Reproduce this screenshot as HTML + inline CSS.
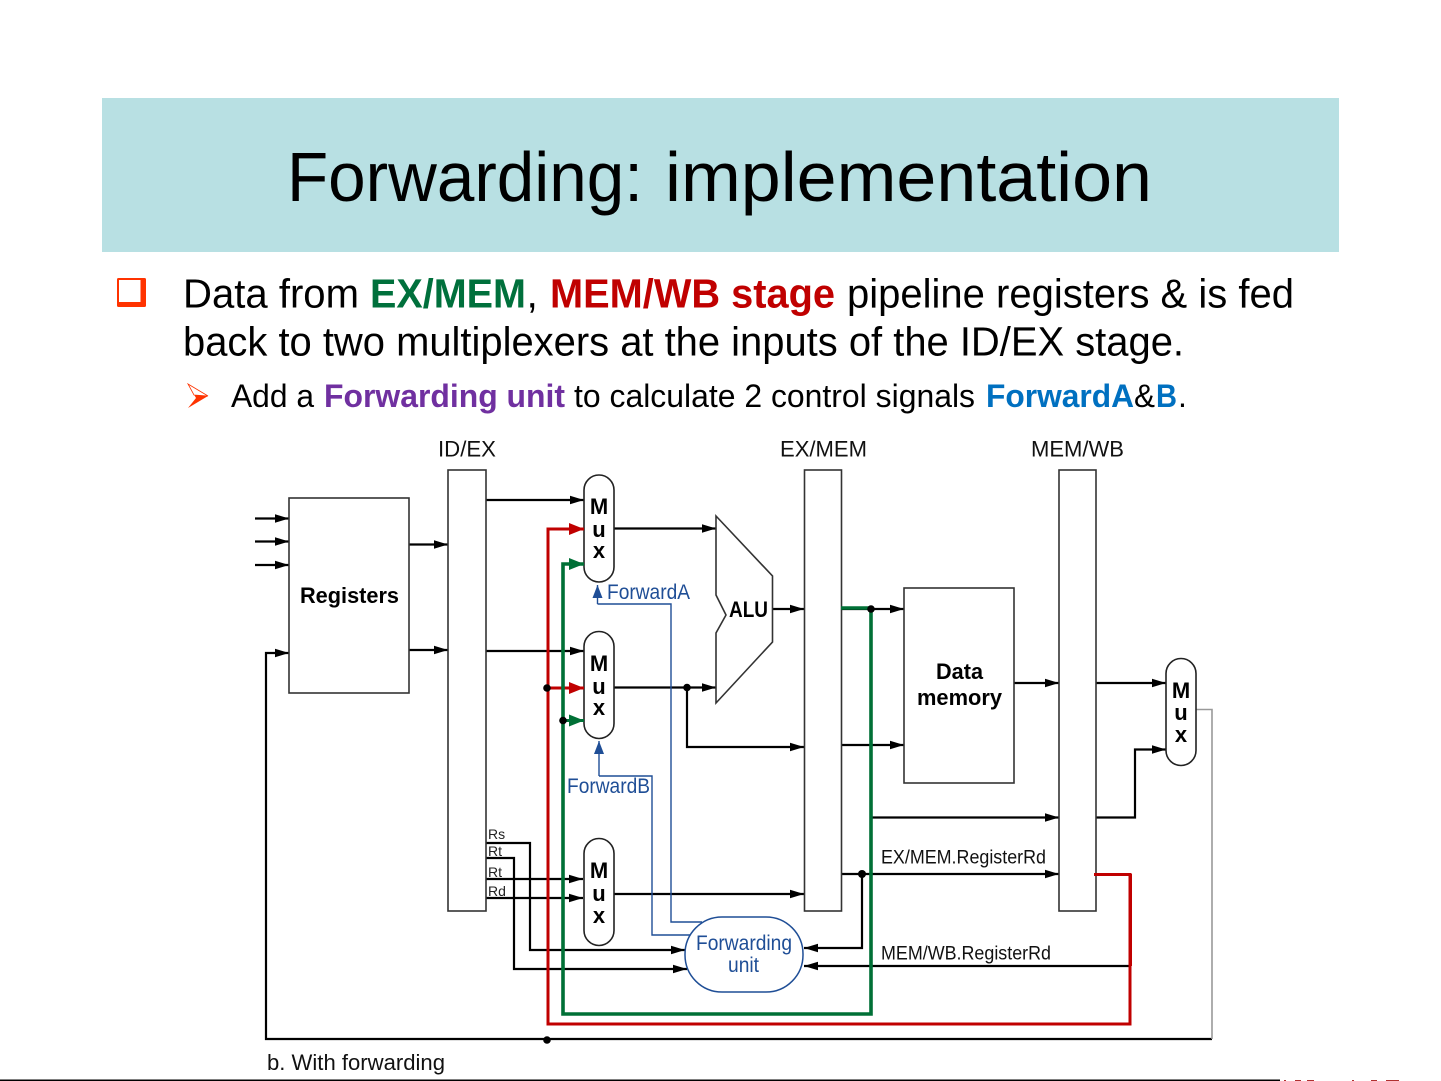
<!DOCTYPE html>
<html><head><meta charset="utf-8"><style>
html,body{margin:0;padding:0;background:#fff;width:1441px;height:1081px;overflow:hidden}
svg{display:block}
text{font-family:"Liberation Sans",Arial,sans-serif;fill:#000}
.t41{font-size:41px}.t32{font-size:32px}.b{font-weight:bold}
.l{font-size:22px;fill:#111}.m{font-size:22px;font-weight:bold;text-anchor:middle}
.s{font-size:14px;fill:#222}.bl{font-size:21px;fill:#1f4e96}
.k{fill:none;stroke:#000;stroke-width:2.2}
.box{fill:#fff;stroke:#333;stroke-width:1.6}
.mux{fill:#fff;stroke:#222;stroke-width:1.6}
.w{fill:none;stroke:#1f4e96;stroke-width:1.4}
</style></head><body>
<svg width="1441" height="1081" viewBox="0 0 1441 1081" xmlns="http://www.w3.org/2000/svg">
<defs>
<marker id="a" markerUnits="userSpaceOnUse" markerWidth="14" markerHeight="10" refX="14" refY="5" orient="auto"><path d="M0 0.800L14 5L0 9.200Z" fill="#000"/></marker>
<marker id="r" markerUnits="userSpaceOnUse" markerWidth="15" markerHeight="12" refX="15" refY="6" orient="auto"><path d="M0 0L15 6L0 12Z" fill="#c00000"/></marker>
<marker id="g" markerUnits="userSpaceOnUse" markerWidth="15" markerHeight="12" refX="15" refY="6" orient="auto"><path d="M0 0L15 6L0 12Z" fill="#007036"/></marker>
<marker id="u" markerUnits="userSpaceOnUse" markerWidth="13" markerHeight="10" refX="13" refY="5" orient="auto"><path d="M0 0L13 5L0 10Z" fill="#1f4e96"/></marker>
</defs>
<rect x="102" y="98" width="1237" height="154" fill="#b8e0e3"/>
<text x="287" y="201" font-size="70" textLength="356" lengthAdjust="spacingAndGlyphs">Forwarding:</text>
<text x="665" y="201" font-size="70" textLength="487" lengthAdjust="spacingAndGlyphs">implementation</text>

<rect x="117" y="278" width="29" height="29" rx="1.500" fill="#ff3300"/>
<rect x="119" y="280" width="21.500" height="22" fill="#fff"/>
<path d="M188 384L208 396L188 408L196 398Z" fill="#ff3300"/>
<path d="M188 384L208 396L194 395Z" fill="#fff" stroke="#ff3300" stroke-width=".8"/>

<text class="t41" x="183" y="307.500" textLength="176" lengthAdjust="spacingAndGlyphs">Data from</text>
<text class="t41 b" x="370" y="307.500" textLength="156" lengthAdjust="spacingAndGlyphs" style="fill:#00703c">EX/MEM</text>
<text class="t41" x="526.500" y="307.500">,</text>
<text class="t41 b" x="550" y="307.500" textLength="285" lengthAdjust="spacingAndGlyphs" style="fill:#c00000">MEM/WB stage</text>
<text class="t41" x="847" y="307.500" textLength="447" lengthAdjust="spacingAndGlyphs">pipeline registers &amp; is fed</text>
<text class="t41" x="183" y="355.500" textLength="1001" lengthAdjust="spacingAndGlyphs">back to two multiplexers at the inputs of the ID/EX stage.</text>
<text class="t32" x="231" y="407" textLength="83" lengthAdjust="spacingAndGlyphs">Add a</text>
<text class="t32 b" x="324" y="407" textLength="241" lengthAdjust="spacingAndGlyphs" style="fill:#7030a0">Forwarding unit</text>
<text class="t32" x="574" y="407" textLength="401" lengthAdjust="spacingAndGlyphs">to calculate 2 control signals</text>
<text class="t32 b" x="986" y="407" textLength="148" lengthAdjust="spacingAndGlyphs" style="fill:#0070c0">ForwardA</text>
<text class="t32" x="1134" y="407" textLength="21" lengthAdjust="spacingAndGlyphs">&amp;</text>
<text class="t32 b" x="1156" y="407" textLength="21" lengthAdjust="spacingAndGlyphs" style="fill:#0070c0">B</text>
<text class="t32" x="1178" y="407">.</text>

<text class="l" x="438" y="456.500" textLength="58" lengthAdjust="spacingAndGlyphs">ID/EX</text>
<text class="l" x="780" y="456.500" textLength="87" lengthAdjust="spacingAndGlyphs">EX/MEM</text>
<text class="l" x="1031" y="456.500" textLength="93" lengthAdjust="spacingAndGlyphs">MEM/WB</text>

<g class="k">
<path d="M255 518.500H289" marker-end="url(#a)"/><path d="M255 541.500H289" marker-end="url(#a)"/><path d="M255 565H289" marker-end="url(#a)"/>
<path d="M409 544.500H448" marker-end="url(#a)"/><path d="M409 650H448" marker-end="url(#a)"/>
<path d="M486 500H584" marker-end="url(#a)"/><path d="M486 651H584" marker-end="url(#a)"/>
<path d="M614 528.500H716" marker-end="url(#a)"/><path d="M614 687.500H716" marker-end="url(#a)"/>
<path d="M687 687.500V747H804" marker-end="url(#a)"/>
<path d="M772 609H804" marker-end="url(#a)"/>
<path d="M841 609H904" marker-end="url(#a)"/>
<path d="M841 745H904" marker-end="url(#a)"/>
<path d="M1014 683H1059" marker-end="url(#a)"/>
<path d="M1096 683H1166" marker-end="url(#a)"/>
<path d="M871 817.500H1059" marker-end="url(#a)"/>
<path d="M1096 817.500H1135V749.500H1166" marker-end="url(#a)"/>
<path d="M841 874H1059" marker-end="url(#a)"/>
<path d="M862 874V948H804" marker-end="url(#a)"/>
<path d="M1130 966H804" marker-end="url(#a)"/>
<path d="M614 894H804" marker-end="url(#a)"/>
<path d="M486 843H530V950H685" marker-end="url(#a)"/>
<path d="M486 858H514V969H687" marker-end="url(#a)"/>
<path d="M486 879H583" marker-end="url(#a)"/>
<path d="M486 898H583" marker-end="url(#a)"/>
<path d="M1212 1039H266V653H289" marker-end="url(#a)"/>
</g>
<path d="M1196 709.500H1212V1039" fill="none" stroke="#999" stroke-width="1.600"/>

<rect class="box" x="289" y="498" width="120" height="195"/>
<rect class="box" x="448" y="470" width="38" height="441"/>
<rect class="box" x="804.500" y="470" width="37" height="441"/>
<rect class="box" x="1059" y="470" width="37" height="441"/>
<rect class="box" x="904" y="588" width="110" height="195"/>
<path class="box" d="M716 516L772.500 576V642L716 703V633L726 615L716 595Z"/>
<rect class="mux" x="584" y="475" width="30" height="107" rx="15"/>
<rect class="mux" x="584" y="631.500" width="30" height="107" rx="15"/>
<rect class="mux" x="584" y="838.500" width="30" height="107" rx="15"/>
<rect class="mux" x="1166" y="658.500" width="30" height="107" rx="15"/>

<g class="w">
<path d="M597.500 604H671V922H702"/>
<path d="M599 776H652V935H690"/>
<path d="M597.500 604V585" marker-end="url(#u)"/>
<path d="M599 776V741" marker-end="url(#u)"/>
</g>
<rect x="685" y="917" width="118" height="75" rx="37" fill="#fff" stroke="#1f4e96" stroke-width="1.500"/>

<path d="M1094 874.500H1130V1024H548V529H584" fill="none" stroke="#c00000" stroke-width="3" marker-end="url(#r)"/>
<path d="M1131 874V966" fill="none" stroke="#c00000" stroke-width="2"/>
<path d="M548 688H584" fill="none" stroke="#c00000" stroke-width="3" marker-end="url(#r)"/>
<path d="M841 608H871V1014H563V564H584" fill="none" stroke="#007036" stroke-width="3.600" marker-end="url(#g)"/>
<path d="M563 720.500H584" fill="none" stroke="#007036" stroke-width="3" marker-end="url(#g)"/>

<circle cx="547" cy="688" r="3.800"/><circle cx="563" cy="720.500" r="3.800"/>
<circle cx="687" cy="687.500" r="3.800"/><circle cx="871" cy="609" r="3.800"/>
<circle cx="862" cy="874" r="4"/><circle cx="547" cy="1040" r="3.800"/>

<text class="m" x="599" y="514">M</text><text class="m" x="599" y="537">u</text><text class="m" x="599" y="558">x</text>
<text class="m" x="599" y="671">M</text><text class="m" x="599" y="694">u</text><text class="m" x="599" y="715">x</text>
<text class="m" x="599" y="878">M</text><text class="m" x="599" y="901">u</text><text class="m" x="599" y="923">x</text>
<text class="m" x="1181" y="698">M</text><text class="m" x="1181" y="720">u</text><text class="m" x="1181" y="742">x</text>

<text class="l b" x="300" y="603" textLength="99" lengthAdjust="spacingAndGlyphs" style="fill:#000">Registers</text>
<text class="l b" x="729" y="617" textLength="39" lengthAdjust="spacingAndGlyphs" style="fill:#000">ALU</text>
<text class="l b" x="936" y="679" textLength="47" lengthAdjust="spacingAndGlyphs" style="fill:#000">Data</text>
<text class="l b" x="917" y="705" textLength="85" lengthAdjust="spacingAndGlyphs" style="fill:#000">memory</text>
<text class="bl" x="607" y="599" textLength="83" lengthAdjust="spacingAndGlyphs">ForwardA</text>
<text class="bl" x="567" y="793" textLength="83" lengthAdjust="spacingAndGlyphs">ForwardB</text>
<text class="bl" x="696" y="950" textLength="96" lengthAdjust="spacingAndGlyphs">Forwarding</text>
<text class="bl" x="728" y="972" textLength="31" lengthAdjust="spacingAndGlyphs">unit</text>
<text class="s" x="488" y="839">Rs</text><text class="s" x="488" y="856">Rt</text>
<text class="s" x="488" y="877">Rt</text><text class="s" x="488" y="896">Rd</text>
<text x="881" y="863.500" font-size="19" textLength="165" lengthAdjust="spacingAndGlyphs" style="fill:#111">EX/MEM.RegisterRd</text>
<text x="881" y="959.500" font-size="19" textLength="170" lengthAdjust="spacingAndGlyphs" style="fill:#111">MEM/WB.RegisterRd</text>
<text class="l" x="267" y="1070" textLength="178" lengthAdjust="spacingAndGlyphs">b. With forwarding</text>
<rect x="0" y="1079.500" width="1280" height="1.500" fill="#000"/>
<g fill="#b03030">
<rect x="1284" y="1080" width="2" height="1"/><rect x="1295" y="1080" width="6" height="1"/><rect x="1307" y="1080" width="7" height="1"/>
<rect x="1352" y="1080" width="2" height="1"/><rect x="1371" y="1080" width="6" height="1"/><rect x="1386" y="1080" width="13" height="1"/>
</g>
</svg>
</body></html>
